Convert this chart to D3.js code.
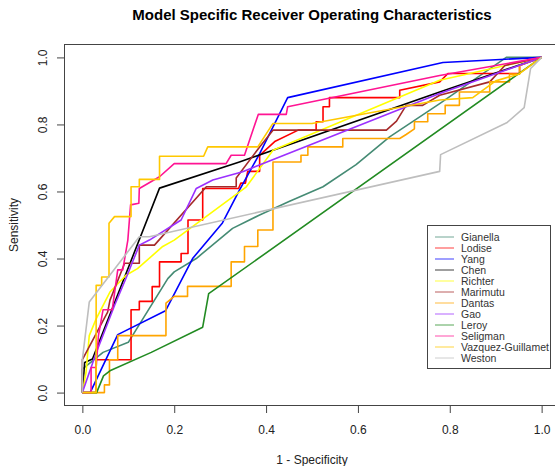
<!DOCTYPE html>
<html><head><meta charset="utf-8">
<script src="https://cdn.jsdelivr.net/npm/d3@7"></script>
<style>body{margin:0;background:#fff}svg{display:block}text{font-family:"Liberation Sans",Arial,sans-serif}</style>
</head><body><svg id="c" width="555" height="466"></svg>
<script>
const seriesNames = ["Gianella","Lodise","Yang","Chen","Richter","Marimutu","Dantas","Gao","Leroy","Seligman","Vazquez-Guillamet","Weston"];
const seriesColors = ["#458B74","#FF0000","#0000FF","#000000","#FFFF00","#A52A2A","#FFA500","#9B30FF","#228B22","#FF1493","#FFC800","#BEBEBE"];
const xTicks = [0,0.2,0.4,0.6,0.8,1.0];
const yTicks = [0,0.2,0.4,0.6,0.8,1.0];

const gianella = [[0,0],[0,0.07],[0.045,0.12],[0.1,0.15],[0.186,0.34],[0.2,0.36],[0.248,0.4],[0.327,0.49],[0.386,0.53],[0.45,0.57],[0.524,0.614],[0.596,0.68],[0.669,0.763],[0.778,0.862],[0.923,1],[1,1]];
const lodise = [[0,0],[0.03,0],[0.03,0.098],[0.106,0.098],[0.106,0.247],[0.124,0.247],[0.124,0.272],[0.152,0.272],[0.152,0.316],[0.168,0.316],[0.168,0.39],[0.215,0.39],[0.215,0.415],[0.23,0.415],[0.23,0.515],[0.262,0.515],[0.262,0.609],[0.276,0.609],[0.34,0.609],[0.345,0.625],[0.355,0.625],[0.36,0.66],[0.386,0.66],[0.386,0.708],[0.42,0.75],[0.47,0.783],[0.509,0.783],[0.509,0.808],[0.524,0.808],[0.524,0.853],[0.538,0.853],[0.538,0.88],[0.691,0.88],[0.691,0.902],[0.778,0.927],[0.796,0.952],[0.952,0.952],[0.952,0.976],[1,1]];
const yang = [[0,0],[0.017,0],[0.077,0.173],[0.181,0.244],[0.24,0.4],[0.305,0.506],[0.342,0.604],[0.386,0.713],[0.447,0.88],[0.785,0.985],[1,1]];
const chen = [[0,0],[0.005,0.09],[0.022,0.1],[0.168,0.61],[0.342,0.688],[0.778,0.897],[1,1]];
const richter = [[0,0],[0.008,0.06],[0.015,0.17],[0.03,0.22],[0.06,0.3],[0.095,0.35],[0.12,0.37],[0.175,0.436],[0.2,0.455],[0.357,0.614],[0.415,0.723],[0.778,0.932],[1,1]];
const marimutu = [[0,0],[0,0.098],[0.048,0.222],[0.055,0.24],[0.06,0.275],[0.092,0.386],[0.124,0.386],[0.124,0.44],[0.157,0.44],[0.27,0.614],[0.335,0.614],[0.335,0.64],[0.386,0.733],[0.415,0.783],[0.662,0.783],[0.684,0.81],[0.705,0.857],[0.741,0.857],[0.778,0.887],[0.887,0.927],[0.92,0.976],[1,1]];
const dantas = [[0,0],[0.048,0],[0.048,0.023],[0.059,0.023],[0.059,0.098],[0.077,0.098],[0.077,0.17],[0.182,0.17],[0.182,0.267],[0.2,0.287],[0.229,0.287],[0.229,0.317],[0.324,0.317],[0.324,0.39],[0.353,0.39],[0.353,0.436],[0.382,0.436],[0.382,0.485],[0.415,0.485],[0.415,0.688],[0.476,0.688],[0.476,0.708],[0.491,0.708],[0.491,0.733],[0.567,0.733],[0.567,0.758],[0.691,0.758],[0.705,0.77],[0.723,0.787],[0.723,0.808],[0.752,0.808],[0.752,0.832],[0.79,0.832],[0.79,0.857],[0.821,0.857],[0.821,0.897],[0.887,0.897],[0.887,0.927],[0.93,0.927],[0.93,0.95],[0.952,0.95],[0.952,0.976],[1,1]];
const gao = [[0,0],[0.01,0.04],[0.03,0.118],[0.07,0.26],[0.095,0.341],[0.124,0.44],[0.146,0.455],[0.215,0.515],[0.248,0.609],[0.284,0.634],[0.349,0.659],[0.778,0.892],[1,1]];
const leroy = [[0,0],[0.031,0],[0.046,0.05],[0.06,0.065],[0.15,0.12],[0.262,0.195],[0.275,0.295],[1,1]];
const seligman = [[0,0],[0.019,0],[0.019,0.075],[0.03,0.075],[0.035,0.17],[0.045,0.247],[0.065,0.247],[0.077,0.366],[0.088,0.366],[0.099,0.455],[0.105,0.56],[0.123,0.565],[0.124,0.609],[0.168,0.644],[0.2,0.683],[0.313,0.683],[0.324,0.708],[0.353,0.708],[0.383,0.83],[0.444,0.83],[0.447,0.853],[0.778,0.946],[1,1]];
const vazquez = [[0,0],[0.03,0],[0.03,0.32],[0.042,0.32],[0.042,0.345],[0.058,0.345],[0.058,0.505],[0.07,0.525],[0.106,0.525],[0.106,0.614],[0.124,0.614],[0.124,0.636],[0.168,0.636],[0.168,0.705],[0.264,0.705],[0.273,0.733],[0.382,0.733],[0.415,0.803],[0.5,0.803],[0.778,0.873],[0.85,0.88],[0.9,0.93],[0.95,0.95],[1,1]];
const weston = [[0,0],[0,0.098],[0.015,0.27],[0.124,0.465],[0.146,0.465],[0.778,0.66],[0.78,0.71],[0.925,0.806],[0.962,0.85],[0.976,0.967],[1,1]];

const seriesData = [gianella,lodise,yang,chen,richter,marimutu,dantas,gao,leroy,seligman,vazquez,weston];

const svg = d3.select("#c");
const W = 555, H = 466;
svg.append("rect").attr("width",W).attr("height",H).attr("fill","#fff");

const x = d3.scaleLinear().domain([-0.04,1.04]).range([64,560]);
const y = d3.scaleLinear().domain([-0.04,1.04]).range([406,44]);

svg.append("clipPath").attr("id","clip").append("rect")
  .attr("x",64).attr("y",44).attr("width",496).attr("height",362);

const line = d3.line().x(d=>x(d[0])).y(d=>y(d[1]));
const g = svg.append("g").attr("clip-path","url(#clip)");
seriesData.forEach((s,i)=>{
  g.append("path").datum(s).attr("d",line).attr("fill","none")
   .attr("stroke",seriesColors[i]).attr("stroke-width",1.6)
   .attr("stroke-linejoin","round");
});

// box
svg.append("rect").attr("x",64.5).attr("y",44.5).attr("width",496).attr("height",361)
  .attr("fill","none").attr("stroke","#444").attr("stroke-width",1);

// axes
const xAxis = d3.axisBottom(x).tickValues(xTicks).tickSize(7).tickPadding(12).tickFormat(d3.format(".1f"));
const gx = svg.append("g").attr("transform","translate(0,406)").call(xAxis);
gx.select(".domain").remove();
gx.selectAll("line").attr("stroke","#444");
gx.selectAll("text").attr("font-size",12).attr("fill","#222");

const yAxis = d3.axisLeft(y).tickValues(yTicks).tickSize(7).tickFormat(d3.format(".1f"));
const gy = svg.append("g").attr("transform","translate(64,0)").call(yAxis);
gy.select(".domain").remove();
gy.selectAll("line").attr("stroke","#444");
gy.selectAll("text").remove();
gy.selectAll(".tick").append("text")
  .attr("transform","translate(-17,0) rotate(-90)")
  .attr("text-anchor","middle").attr("font-size",12).attr("fill","#222")
  .text(d=>d3.format(".1f")(d));

// titles
svg.append("text").attr("x",312).attr("y",20).attr("text-anchor","middle")
  .attr("font-size",15).attr("font-weight","bold").attr("fill","#000")
  .text("Model Specific Receiver Operating Characteristics");
svg.append("text").attr("x",312).attr("y",464).attr("text-anchor","middle")
  .attr("font-size",12).attr("fill","#222").text("1 - Specificity");
svg.append("text").attr("transform","translate(18,225) rotate(-90)").attr("text-anchor","middle")
  .attr("font-size",12).attr("fill","#222").text("Sensitivity");

// legend
const lg = svg.append("g");
lg.append("rect").attr("x",427.5).attr("y",225.5).attr("width",123).attr("height",143)
  .attr("fill","#fff").attr("stroke","#444");
seriesNames.forEach((n,i)=>{
  const yy = 237 + i*11;
  lg.append("line").attr("x1",435).attr("x2",454).attr("y1",yy).attr("y2",yy)
    .attr("stroke",seriesColors[i]).attr("stroke-width",1).attr("opacity",0.75);
  lg.append("text").attr("x",461).attr("y",yy+4).attr("font-size",10.5).attr("fill","#333").text(n);
});
</script></body></html>
